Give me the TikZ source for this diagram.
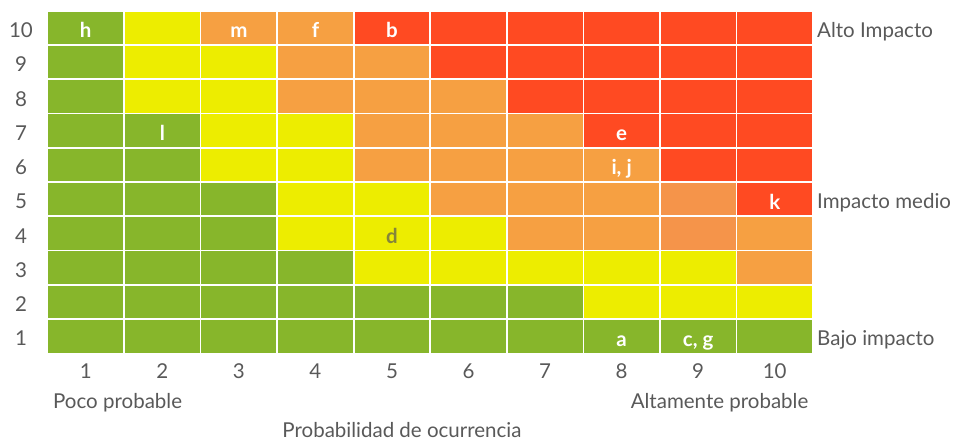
\documentclass[tikz,border=0pt]{standalone}
\usepackage{fontspec}
\setmainfont{Lato}
\definecolor{cG}{HTML}{87B62B}
\definecolor{cY}{HTML}{EDED00}
\definecolor{cO}{HTML}{F6A042}
\definecolor{cP}{HTML}{F5944A}
\definecolor{cR}{HTML}{FF4A22}
\definecolor{axis}{HTML}{595959}
\definecolor{dark}{HTML}{85853A}
\begin{document}
\begin{tikzpicture}[x=1pt,y=-1pt,
  cell/.style={draw=white,line width=1.6pt,inner sep=0pt,outer sep=0pt,minimum width=76.55pt,minimum height=34.26pt},
  lbl/.style={text=white,font=\fontsize{20.5}{22}\selectfont\bfseries,anchor=base,inner sep=0pt},
  lbld/.style={lbl,text=dark},
  ax/.style={text=axis,font=\fontsize{20.5}{22}\selectfont,inner sep=0pt,anchor=base}]
\useasboundingbox (0,0) rectangle (956,440);
\def\xo{47.5}\def\yo{10.7}\def\cw{76.55}\def\rh{34.26}
\foreach \r/\row in {10/{G,Y,O,O,R,R,R,R,R,R},
                     9/{G,Y,Y,O,O,R,R,R,R,R},
                     8/{G,Y,Y,O,O,O,R,R,R,R},
                     7/{G,G,Y,Y,O,O,O,R,R,R},
                     6/{G,G,Y,Y,O,O,O,O,R,R},
                     5/{G,G,G,Y,Y,O,O,O,P,R},
                     4/{G,G,G,Y,Y,Y,O,O,P,O},
                     3/{G,G,G,G,Y,Y,Y,Y,Y,O},
                     2/{G,G,G,G,G,G,G,Y,Y,Y},
                     1/{G,G,G,G,G,G,G,G,G,G}}{
  \foreach \col [count=\c] in \row {
    \node[cell,fill=c\col] (c\c-\r) at ({\xo+(\c-0.5)*\cw},{\yo+(10-\r+0.5)*\rh}) {};
  }
  \node[ax] (y\r) at (21,{\yo+(10-\r+0.5)*\rh+9.8}) {\r};
}
\foreach \c in {1,...,10}{
  \node[ax] (x\c) at ({\xo+(\c-0.5)*\cw},378) {\c};
}
% cell labels
\tikzset{at cell/.style={}}
\node[lbl] (Lh) at ([yshift=-10pt]c1-10.center) {h};
\node[lbl] (Lm) at ([yshift=-10pt]c3-10.center) {m};
\node[lbl] (Lf) at ([yshift=-10pt]c4-10.center) {f};
\node[lbl] (Lb) at ([yshift=-10pt]c5-10.center) {b};
\node[lbl] (Ll) at ([yshift=-10pt]c2-7.center) {l};
\node[lbl] (Le) at ([yshift=-10pt]c8-7.center) {e};
\node[lbl] (Lij) at ([yshift=-10pt]c8-6.center) {i, j};
\node[lbl] (Lk) at ([yshift=-10pt]c10-5.center) {k};
\node[lbld] (Ld) at ([yshift=-10pt]c5-4.center) {d};
\node[lbl] (La) at ([yshift=-10pt]c8-1.center) {a};
\node[lbl] (Lcg) at ([yshift=-10pt]c9-1.center) {c, g};
% right labels
\node[ax,anchor=base west] (alto) at (817,{\yo+0.5*\rh+9.8}) {Alto Impacto};
\node[ax,anchor=base west] (medio) at (817,{\yo+5.5*\rh+9.8}) {Impacto medio};
\node[ax,anchor=base west] (bajo) at (817,{\yo+9.5*\rh+9.8}) {Bajo impacto};
% bottom labels
\node[ax,anchor=base west] (poco) at (53,408.3) {Poco probable};
\node[ax,anchor=base east] (altam) at (808.5,408.3) {Altamente probable};
\node[ax] (prob) at (402,437.3) {Probabilidad de ocurrencia};
\end{tikzpicture}
\end{document}
